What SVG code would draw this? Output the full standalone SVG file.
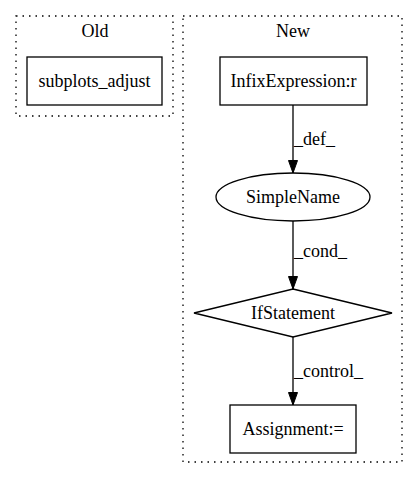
<svg xmlns="http://www.w3.org/2000/svg" width="419" height="480" viewBox="0 0 419 480">
<style>
text{font-family:"Liberation Serif","Times New Roman",serif;font-size:18px;fill:#000}
.c{text-anchor:middle}
.cl{fill:none;stroke:#000;stroke-width:1.3;stroke-dasharray:1.5,5}
.n{fill:none;stroke:#000;stroke-width:1.3}
.e{fill:none;stroke:#000;stroke-width:1.3}
</style>
<defs>
<marker id="ah" markerWidth="13" markerHeight="10" refX="13" refY="5" orient="auto" markerUnits="userSpaceOnUse">
<path d="M0.5,0.5 L13,5 L0.5,9.5 Z" fill="#000" stroke="#000" stroke-width="1"/>
</marker>
</defs>
<rect width="419" height="480" fill="#fff"/>
<g id="cluster_old">
<rect class="cl" x="16" y="16" width="157" height="100"/>
<text class="c" x="95" y="37">Old</text>
</g>
<g id="cluster_new">
<rect class="cl" x="183" y="16" width="219" height="446"/>
<text class="c" x="293" y="37">New</text>
</g>
<g id="subplots_adjust">
<rect class="n" x="27" y="57" width="135" height="48"/>
<text class="c" x="94.5" y="87">subplots_adjust</text>
</g>
<g id="InfixExpression">
<rect class="n" x="220" y="57" width="147" height="48"/>
<text class="c" x="293.5" y="87">InfixExpression:r</text>
</g>
<g id="SimpleName">
<ellipse class="n" cx="293" cy="197" rx="77" ry="24"/>
<text class="c" x="293" y="203">SimpleName</text>
</g>
<g id="IfStatement">
<polygon class="n" points="293,289 392,313 293,337 194,313"/>
<text class="c" x="293" y="319">IfStatement</text>
</g>
<g id="Assignment">
<rect class="n" x="230" y="405" width="126" height="48"/>
<text class="c" x="293" y="435">Assignment:=</text>
</g>
<g id="connectors">
<line class="e" x1="293" y1="105" x2="293" y2="173" marker-end="url(#ah)"/>
<text x="294" y="145">_def_</text>
<line class="e" x1="293" y1="221" x2="293" y2="289" marker-end="url(#ah)"/>
<text x="294" y="257">_cond_</text>
<line class="e" x1="293" y1="337" x2="293" y2="405" marker-end="url(#ah)"/>
<text x="294" y="377">_control_</text>
</g>
</svg>
